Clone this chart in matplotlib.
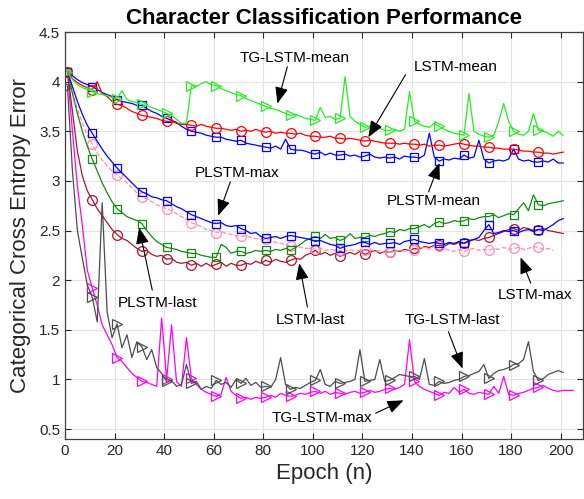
import numpy as np
import matplotlib
matplotlib.use('Agg')
import matplotlib.pyplot as plt

plt.rcParams['font.family'] = ['Liberation Sans', 'DejaVu Sans']

# epochs (every 2nd epoch)
epochs = np.arange(1, 202, 2)
epochs_long = np.arange(1, 206, 2)

tg_mean = [4.10, 4.02, 3.97, 3.94, 3.92, 3.90, 3.88, 3.87, 3.86, 3.84,
           3.83, 3.91, 3.82, 3.80, 3.79, 3.77, 3.76, 3.74, 3.72, 3.70,
           3.68, 3.66, 3.62, 3.58, 3.58, 3.96, 3.95, 3.98, 4.00, 3.97,
           3.96, 3.93, 3.91, 3.89, 3.87, 3.86, 3.83, 3.81, 3.79, 3.77,
           3.75, 3.73, 3.72, 3.70, 3.68, 3.66, 3.67, 3.65, 3.63, 3.62,
           3.61, 3.74, 3.64, 3.65, 3.62, 3.63, 4.05, 3.65, 3.60, 3.57,
           3.54, 3.55, 3.52, 3.53, 3.51, 3.51, 3.52, 3.50, 3.52, 3.90,
           3.60, 3.57, 3.55, 3.54, 3.58, 3.55, 3.52, 3.50, 3.48, 3.47,
           3.46, 3.88, 3.50, 3.47, 3.45, 3.44, 3.46, 3.60, 3.78, 3.60,
           3.50, 3.47, 3.46, 3.50, 3.68, 3.51, 3.50, 3.48, 3.45, 3.50,
           3.46]

lstm_mean = [4.10, 4.03, 3.99, 3.96, 3.94, 3.92, 4.00, 3.88, 3.85, 3.80,
             3.77, 3.76, 3.73, 3.70, 3.68, 3.66, 3.65, 3.64, 3.63, 3.61,
             3.60, 3.60, 3.58, 3.57, 3.57, 3.56, 3.55, 3.57, 3.55, 3.54,
             3.53, 3.53, 3.52, 3.51, 3.52, 3.50, 3.51, 3.50, 3.52, 3.50,
             3.49, 3.50, 3.48, 3.49, 3.48, 3.48, 3.47, 3.48, 3.46, 3.45,
             3.45, 3.44, 3.44, 3.45, 3.43, 3.43, 3.42, 3.43, 3.42, 3.41,
             3.40, 3.41, 3.40, 3.39, 3.38, 3.38, 3.38, 3.37, 3.38, 3.37,
             3.37, 3.36, 3.37, 3.35, 3.36, 3.36, 3.35, 3.36, 3.37, 3.38,
             3.37, 3.36, 3.35, 3.35, 3.34, 3.34, 3.33, 3.33, 3.32, 3.32,
             3.32, 3.31, 3.30, 3.30, 3.29, 3.29, 3.28, 3.28, 3.27, 3.28,
             3.29]

plstm_mean = [4.10, 4.06, 4.02, 3.99, 3.97, 3.95, 3.92, 3.89, 3.87, 3.85,
              3.82, 3.80, 3.79, 3.78, 3.76, 3.76, 3.73, 3.70, 3.68, 3.65,
              3.63, 3.61, 3.59, 3.55, 3.52, 3.50, 3.49, 3.48, 3.46, 3.45,
              3.44, 3.44, 3.42, 3.41, 3.40, 3.41, 3.38, 3.37, 3.36, 3.35,
              3.34, 3.33, 3.35, 3.32, 3.42, 3.32, 3.31, 3.31, 3.30, 3.28,
              3.27, 3.29, 3.26, 3.28, 3.26, 3.26, 3.27, 3.25, 3.26, 3.24,
              3.25, 3.27, 3.24, 3.23, 3.24, 3.23, 3.24, 3.22, 3.25, 3.24,
              3.24, 3.23, 3.26, 3.48, 3.24, 3.20, 3.22, 3.21, 3.23, 3.22,
              3.26, 3.23, 3.24, 3.41, 3.22, 3.18, 3.20, 3.21, 3.20, 3.22,
              3.32, 3.22, 3.20, 3.21, 3.19, 3.19, 3.20, 3.19, 3.22, 3.18,
              3.18]

plstm_max = [4.10, 3.95, 3.80, 3.67, 3.56, 3.48, 3.40, 3.32, 3.25, 3.19,
             3.13, 3.08, 3.03, 2.98, 2.93, 2.89, 2.87, 2.84, 2.83, 2.81,
             2.80, 2.77, 2.74, 2.72, 2.69, 2.66, 2.64, 2.62, 2.60, 2.58,
             2.57, 2.58, 2.55, 2.54, 2.55, 2.52, 2.50, 2.47, 2.48, 2.44,
             2.42, 2.43, 2.44, 2.42, 2.44, 2.45, 2.44, 2.43, 2.42, 2.41,
             2.39, 2.40, 2.38, 2.36, 2.35, 2.32, 2.34, 2.35, 2.36, 2.38,
             2.38, 2.36, 2.38, 2.36, 2.37, 2.37, 2.38, 2.36, 2.39, 2.40,
             2.41, 2.39, 2.38, 2.37, 2.38, 2.37, 2.36, 2.38, 2.37, 2.39,
             2.37, 2.40, 2.41, 2.43, 2.50, 2.56, 2.47, 2.48, 2.50, 2.49,
             2.50, 2.48, 2.50, 2.51, 2.49, 2.51, 2.50, 2.53, 2.56, 2.60,
             2.62]

lstm_max = [4.10, 3.90, 3.72, 3.58, 3.46, 3.37, 3.28, 3.21, 3.15, 3.10,
            3.06, 3.02, 2.98, 2.93, 2.88, 2.84, 2.82, 2.79, 2.76, 2.74,
            2.72, 2.70, 2.67, 2.64, 2.61, 2.58, 2.56, 2.54, 2.51, 2.50,
            2.48, 2.49, 2.47, 2.46, 2.45, 2.44, 2.45, 2.43, 2.42, 2.41,
            2.41, 2.40, 2.38, 2.37, 2.36, 2.34, 2.35, 2.33, 2.32, 2.32,
            2.31, 2.32, 2.30, 2.31, 2.30, 2.30, 2.29, 2.31, 2.29, 2.30,
            2.30, 2.31, 2.29, 2.30, 2.28, 2.28, 2.29, 2.30, 2.29, 2.31,
            2.30, 2.32, 2.33, 2.31, 2.34, 2.34, 2.32, 2.30, 2.29, 2.31,
            2.29, 2.31, 2.32, 2.30, 2.31, 2.30, 2.32, 2.31, 2.33, 2.31,
            2.32, 2.33, 2.31, 2.32, 2.34, 2.33, 2.31, 2.32, 2.30, np.nan,
            np.nan]

lstm_last = [4.10, 3.70, 3.30, 3.05, 2.90, 2.81, 2.72, 2.65, 2.58, 2.51,
             2.46, 2.42, 2.40, 2.36, 2.32, 2.29, 2.30, 2.26, 2.24, 2.25,
             2.21, 2.22, 2.18, 2.17, 2.18, 2.15, 2.17, 2.14, 2.17, 2.14,
             2.16, 2.18, 2.14, 2.17, 2.15, 2.15, 2.17, 2.16, 2.19, 2.17,
             2.20, 2.18, 2.21, 2.19, 2.18, 2.20, 2.22, 2.21, 2.25, 2.27,
             2.30, 2.26, 2.28, 2.25, 2.27, 2.24, 2.26, 2.28, 2.26, 2.29,
             2.26, 2.28, 2.30, 2.27, 2.29, 2.28, 2.30, 2.29, 2.31, 2.30,
             2.32, 2.31, 2.34, 2.33, 2.35, 2.35, 2.34, 2.37, 2.36, 2.38,
             2.37, 2.39, 2.41, 2.40, 2.42, 2.43, 2.45, 2.47, 2.49, 2.51,
             2.52, 2.50, 2.53, 2.52, 2.50, 2.51, 2.52, 2.50, 2.49, 2.48,
             2.47]

plstm_last = [4.10, 3.88, 3.68, 3.50, 3.35, 3.22, 3.10, 2.98, 2.88, 2.79,
              2.72, 2.68, 2.64, 2.62, 2.60, 2.57, 2.50, 2.44, 2.39, 2.36,
              2.33, 2.32, 2.31, 2.29, 2.28, 2.27, 2.27, 2.25, 2.24, 2.23,
              2.23, 2.36, 2.33, 2.27, 2.29, 2.29, 2.27, 2.28, 2.30, 2.29,
              2.30, 2.29, 2.31, 2.30, 2.32, 2.30, 2.33, 2.36, 2.40, 2.42,
              2.44, 2.42, 2.46, 2.42, 2.43, 2.40, 2.42, 2.47, 2.42, 2.43,
              2.43, 2.45, 2.44, 2.46, 2.47, 2.49, 2.48, 2.51, 2.50, 2.52,
              2.52, 2.54, 2.56, 2.53, 2.57, 2.59, 2.57, 2.58, 2.60, 2.59,
              2.60, 2.62, 2.61, 2.63, 2.64, 2.64, 2.66, 2.63, 2.65, 2.67,
              2.66, 2.72, 2.78, 2.70, 2.86, 2.76, 2.75, 2.77, 2.78, 2.79,
              2.80]

tg_last = [3.95, 3.10, 2.50, 2.22, 1.95, 1.83, 1.58, 2.78, 1.68, 1.42,
           1.56, 1.32, 1.45, 1.22, 1.38, 1.33, 1.20, 1.30, 1.12, 1.06,
           0.98, 0.99, 0.93, 0.95, 1.15, 0.96, 0.98, 0.90, 0.93, 0.91,
           0.99, 0.95, 0.97, 0.92, 1.00, 0.96, 1.01, 0.94, 0.97, 0.92,
           0.93, 0.92, 1.00, 1.22, 0.95, 0.90, 0.92, 0.91, 0.94, 0.97,
           0.99, 1.10, 0.95, 0.93, 0.98, 0.96, 0.97, 0.98, 1.00, 1.30,
           0.98, 0.99, 1.00, 1.20, 0.98, 0.99, 1.02, 1.05, 1.04, 1.03,
           1.03, 1.00, 1.21, 0.95, 0.94, 0.98, 0.96, 0.97, 0.99, 1.00,
           1.03, 1.04, 1.06, 1.08, 1.15, 1.01, 1.06, 1.09, 1.10, 1.12,
           1.15, 1.16, 1.20, 1.38, 1.08, 0.99, 1.01, 1.05, 1.07, 1.09,
           1.07]

tg_max = [4.10, 3.50, 2.95, 2.55, 2.10, 1.92, 1.75, 1.55, 1.45, 1.35,
          1.22, 1.18, 1.12, 1.06, 1.02, 0.98, 0.97, 0.95, 0.93, 1.62,
          1.00, 1.55, 0.98, 0.93, 1.42, 1.01, 0.95, 0.90, 0.87, 0.85,
          0.83, 0.85, 1.02, 0.88, 0.84, 0.81, 0.82, 0.80, 0.82, 0.81,
          0.82, 0.84, 0.82, 0.86, 0.84, 0.83, 0.84, 0.86, 0.85, 0.87,
          0.88, 0.86, 0.88, 0.85, 0.87, 0.86, 0.85, 0.87, 0.88, 0.86,
          0.87, 0.89, 0.87, 0.88, 0.90, 0.91, 0.90, 0.92, 0.95, 1.40,
          0.98, 0.93, 0.90, 0.88, 0.86, 0.84, 0.87, 0.86, 0.92, 0.87,
          0.90, 0.86, 0.85, 0.87, 0.86, 0.85, 0.93, 0.86, 1.03, 0.85,
          0.84, 0.86, 0.87, 0.89, 0.91, 0.92, 0.94, 0.91, 0.89, 0.88,
          0.89, 0.89, 0.89]

fig = plt.figure(figsize=(5.84, 4.99), dpi=100)
ax = fig.add_axes([65/584, 60/499, 518/584, 407/499])

marks = slice(0, 100, 5)  # markers at epoch 1, 11, 21, ... 191


def curve(y, color, marker, ms=7, ls='-', x=epochs):
    ax.plot(x, y, ls, color=color, lw=0.9, marker=marker, ms=ms,
            mfc='none', mec=color, mew=0.9, markevery=marks)


curve(tg_max, '#ff00ff', '>', x=epochs_long)
curve(tg_last, '#4d4d4d', '>')
curve(lstm_last, '#a8162c', 'o')
curve(lstm_max, '#ff8cb4', 'o', ls='--')
curve(plstm_last, '#138a13', 's', ms=6)
curve(plstm_max, '#0000ff', 's', ms=6)
curve(plstm_mean, '#0000ff', 's', ms=6)
curve(lstm_mean, '#ff0000', 'o')
curve(tg_mean, '#22ee22', '>')

# labels with arrows: (text, text pos, arrow tail, arrow head)
notes = [
    ('TG-LSTM-mean', (92.5, 4.24), (89.7, 4.15), (85.7, 3.78)),
    ('LSTM-mean', (157.6, 4.15), (137.4, 4.07), (122.4, 3.44)),
    ('PLSTM-max', (69.5, 3.08), (66.7, 2.99), (61.8, 2.65)),
    ('PLSTM-mean', (148.7, 2.80), (146.7, 2.89), (151.1, 3.18)),
    ('PLSTM-last', (37.2, 1.77), (35.2, 1.90), (29.9, 2.53)),
    ('LSTM-last', (99.0, 1.60), (97.8, 1.73), (94.5, 2.17)),
    ('LSTM-max', (189.5, 1.85), (187.9, 1.97), (183.8, 2.23)),
    ('TG-LSTM-last', (156.4, 1.60), (154.7, 1.48), (160.4, 1.11)),
    ('TG-LSTM-max', (103.8, 0.61), (125.3, 0.66), (136.6, 0.79)),
]
for label, tpos, tail, head in notes:
    ax.text(tpos[0], tpos[1], label, fontsize=11, ha='center', va='center')
    ax.annotate('', xy=head, xytext=tail,
                arrowprops=dict(arrowstyle='-|>,head_length=1.0,head_width=0.4',
                                color='k', lw=0.8, mutation_scale=10,
                                shrinkA=0, shrinkB=0))

ax.set_xlim(0, 209)
ax.set_ylim(0.4, 4.5)
ax.set_xticks(np.arange(0, 201, 20))
yt = np.arange(0.5, 4.51, 0.5)
ax.set_yticks(yt)
ax.set_yticklabels([f'{v:g}' for v in yt])
ax.grid(True, color='#e3e3e3', lw=0.8)
ax.set_axisbelow(True)
ax.tick_params(direction='in', top=True, right=True, length=4,
               labelsize=11, colors='#262626', width=0.8)
for s in ax.spines.values():
    s.set_color('#404040')
    s.set_linewidth(0.9)

ax.set_title('Character Classification Performance', fontsize=16,
             fontweight='bold', pad=6)
ax.set_xlabel('Epoch (n)', fontsize=16, color='#262626', labelpad=4)
ax.set_ylabel('Categorical Cross Entropy Error', fontsize=16,
              color='#262626', labelpad=6)

fig.savefig('out.png', dpi=100)
